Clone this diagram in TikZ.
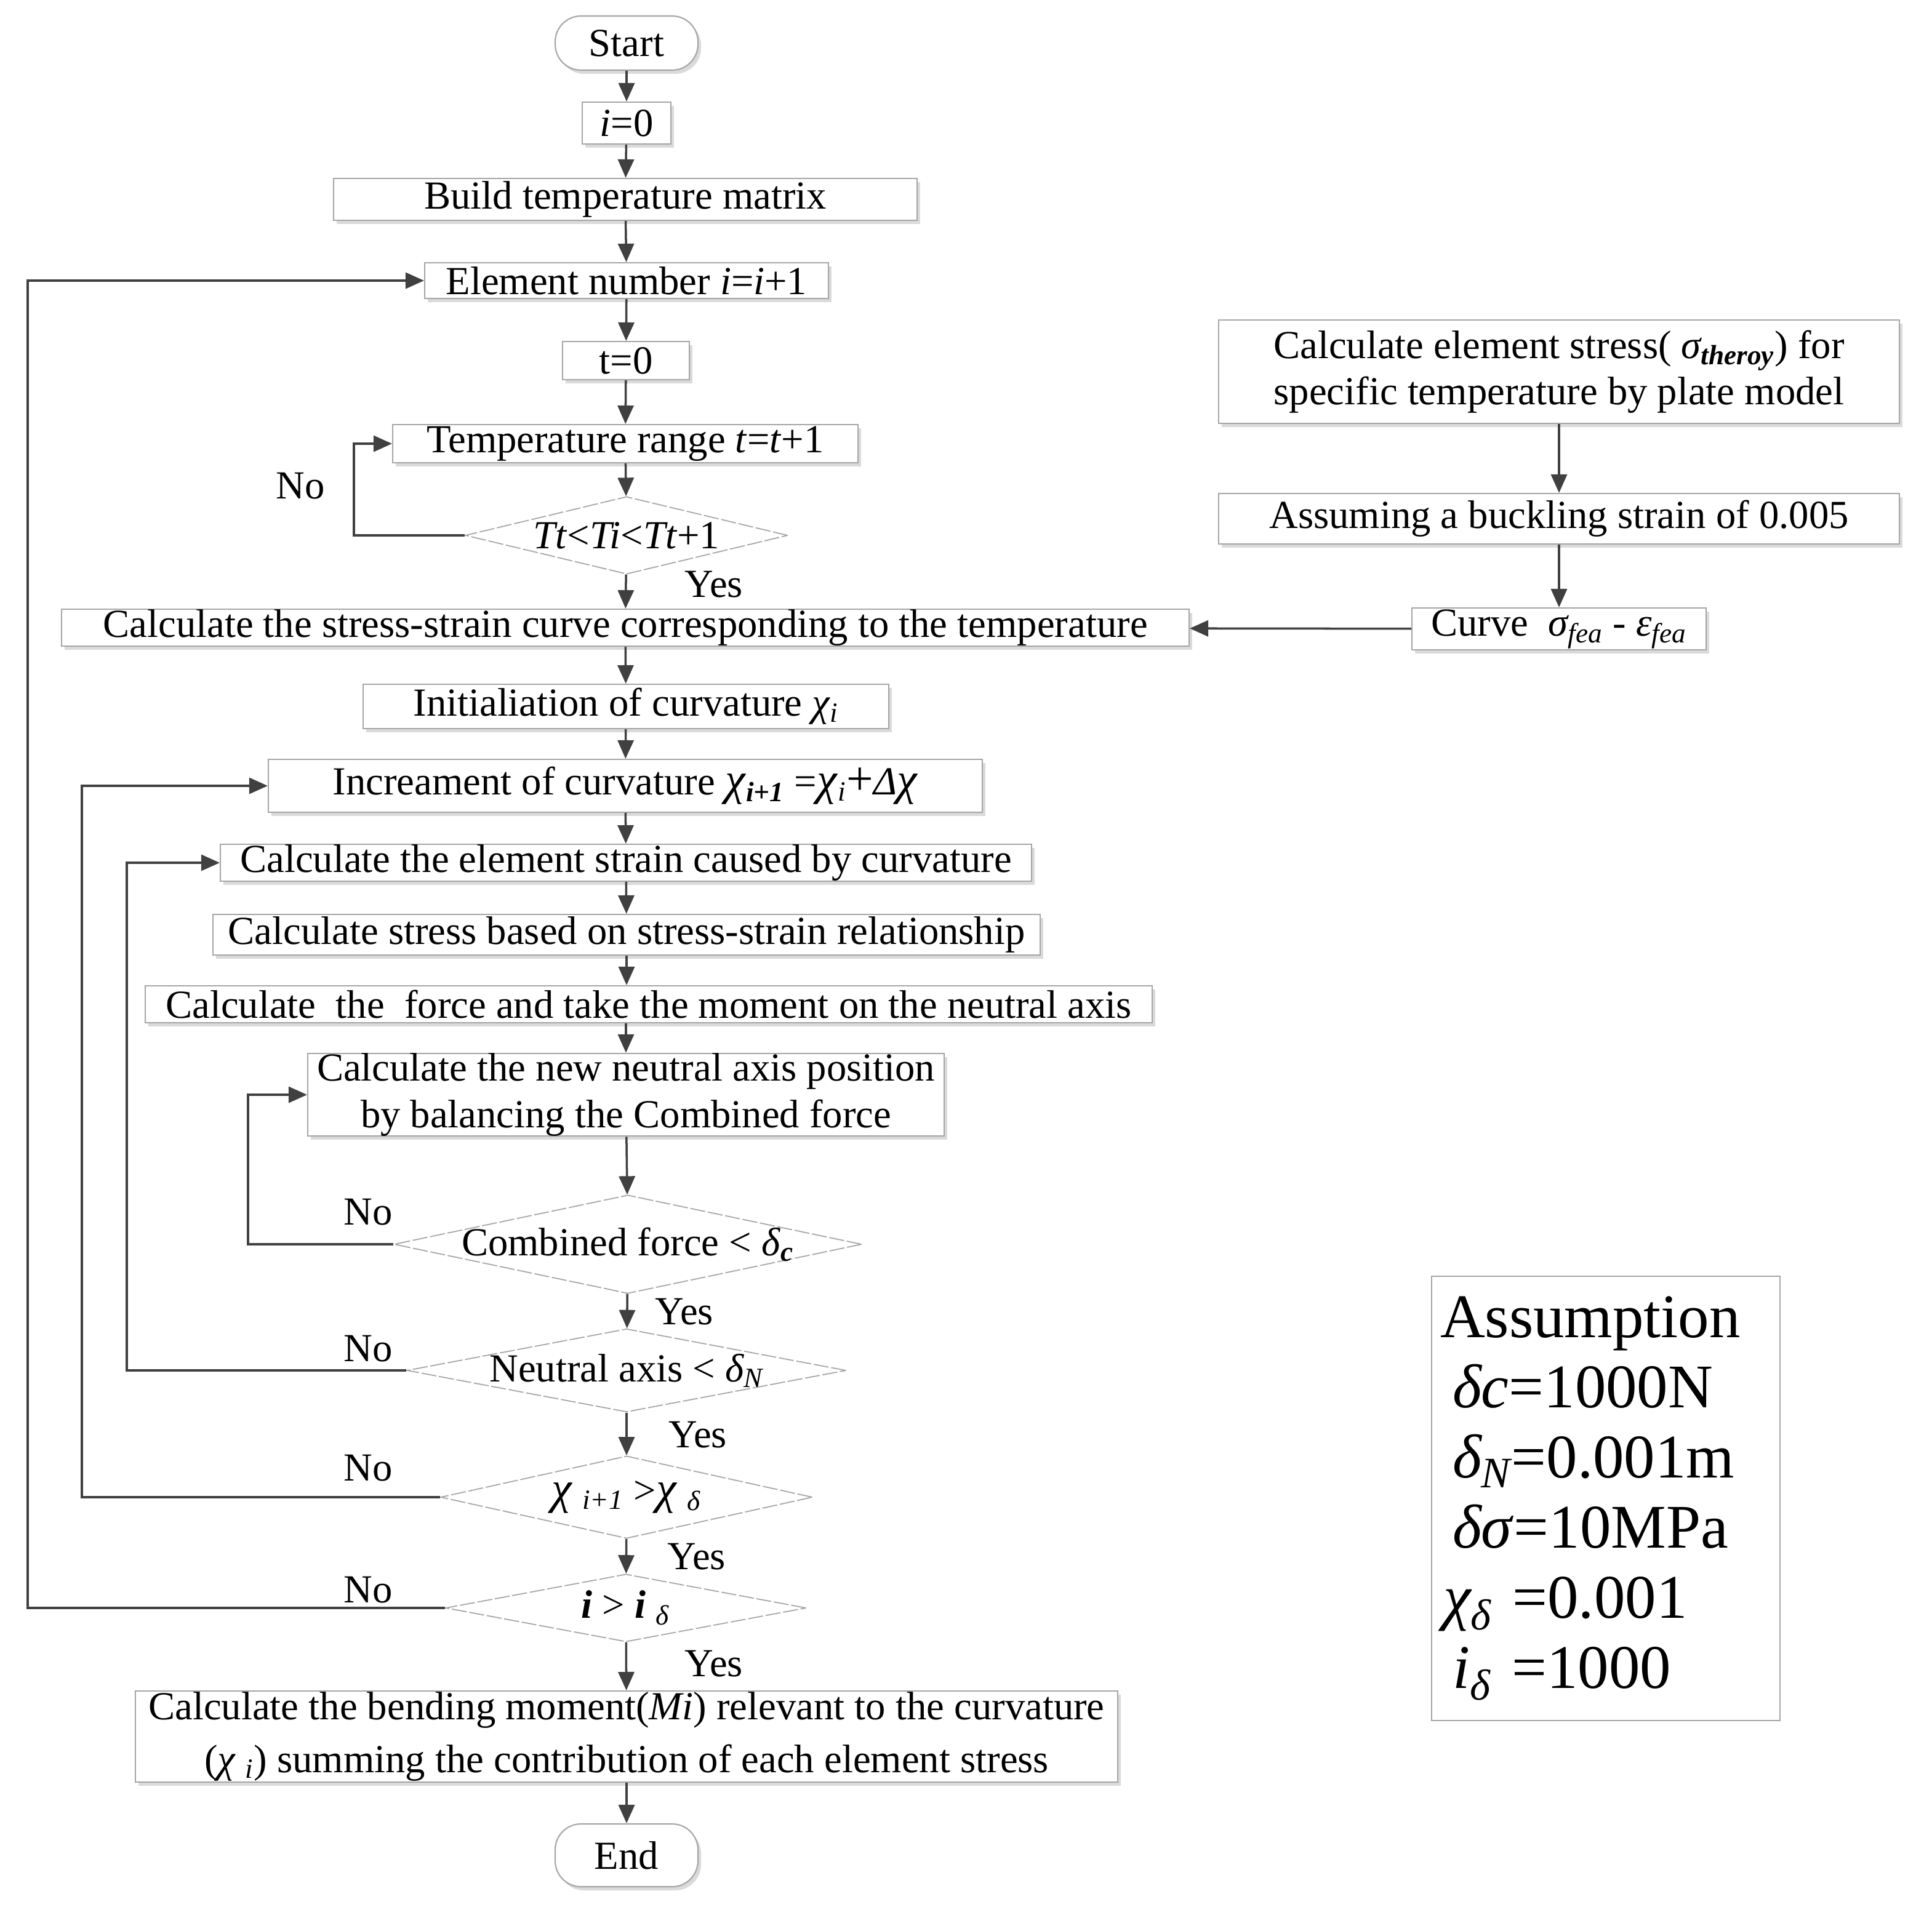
\documentclass[tikz,border=0pt]{standalone}
\usepackage{fontspec}
\setmainfont{Liberation Serif}
\usetikzlibrary{arrows.meta,shapes.geometric,shadows}
\definecolor{linegray}{RGB}{64,64,64}
\definecolor{boxgray}{RGB}{165,165,165}
\definecolor{shadowgray}{RGB}{218,218,218}
\tikzset{
	box/.style={draw=boxgray, line width=0.6pt, fill=white, inner sep=0pt, align=center,
		drop shadow={shadow xshift=0.05cm, shadow yshift=-0.06cm, fill=shadowgray, opacity=1}},
	terminal/.style={box, rounded corners=0.42cm},
	decision/.style={draw=boxgray, line width=0.5pt, dash pattern=on 7pt off 1.2pt, fill=white,
		inner sep=0pt, align=center, diamond},
	flow/.style={draw=linegray, line width=1pt, -{Triangle[length=0.3cm,width=0.26cm]}},
	loop/.style={flow, rounded corners=0pt},
	note/.style={inner sep=0pt}
}
\begin{document}
\begin{tikzpicture}[font=\fontsize{18.4}{21.5}\selectfont]
	\useasboundingbox (0,0) rectangle (31.39,-31.24);
	% Hauptspalte
	\node[terminal, minimum width=2.32cm, minimum height=0.88cm] (start) at (10.18,-0.70) {Start};
	\node[box, minimum width=1.44cm, minimum height=0.68cm] (izero) at (10.18,-2.00) {\textit{i}=0};
	\node[box, minimum width=9.48cm, minimum height=0.68cm] (matrix) at (10.16,-3.24) {Build temperature matrix};
	\node[box, minimum width=6.56cm, minimum height=0.58cm] (elem) at (10.18,-4.56) {Element number \textit{i}=\textit{i}+1};
	\node[box, minimum width=2.06cm, minimum height=0.62cm] (tzero) at (10.17,-5.86) {t=0};
	\node[box, minimum width=7.56cm, minimum height=0.62cm] (trange) at (10.16,-7.21) {Temperature range \textit{t}=\textit{t}+1};
	\node[decision, minimum width=5.24cm, minimum height=1.26cm, aspect=4.16] (dtemp) at (10.18,-8.70) {\textit{Tt}<\textit{Ti}<\textit{Tt}+1};
	\node[box, minimum width=18.32cm, minimum height=0.60cm] (sscurve) at (10.16,-10.20) {Calculate the stress-strain curve corresponding to the temperature};
	\node[box, minimum width=8.54cm, minimum height=0.72cm] (init) at (10.17,-11.48) {Initialiation of curvature \textit{χ\textsubscript{i}}};
	\node[box, minimum width=11.60cm, minimum height=0.86cm] (incr) at (10.16,-12.77) {Increament of curvature {\fontsize{21}{21}\selectfont\textit{χ}}\textsubscript{\textbf{\textit{i+1}}} ={\fontsize{21}{21}\selectfont\textit{χ}}\textsubscript{\textit{i}}{\fontsize{22}{22}\selectfont +}\textit{Δ}{\fontsize{21}{21}\selectfont\textit{χ}}};
	\node[box, minimum width=13.18cm, minimum height=0.60cm] (strain) at (10.17,-14.02) {Calculate the element strain caused by curvature};
	\node[box, minimum width=13.44cm, minimum height=0.66cm] (stress) at (10.18,-15.19) {Calculate stress based on stress-strain relationship};
	\node[box, minimum width=16.36cm, minimum height=0.60cm] (force) at (10.54,-16.32) {Calculate\ \ the\ \ force and take the moment on the neutral axis};
	\node[box, minimum width=10.34cm, minimum height=1.30cm] (newaxis) at (10.17,-17.79) {Calculate the new neutral axis position\\by balancing the Combined force};
	\node[decision, minimum width=7.60cm, minimum height=1.60cm, aspect=4.75, inner xsep=-0.22cm] (dforce) at (10.20,-20.22) {Combined force < \textit{δ}\textsubscript{\textbf{\textit{c}}}};
	\node[decision, minimum width=7.08cm, minimum height=1.34cm, aspect=5.28, inner xsep=-0.09cm] (daxis) at (10.18,-22.27) {Neutral axis < \textit{δ\textsubscript{N}}};
	\node[decision, minimum width=6.04cm, minimum height=1.34cm, aspect=4.5] (dcurv) at (10.18,-24.33) {{\fontsize{21}{21}\selectfont\textit{χ}} \textsubscript{\textit{i+1}} >{\fontsize{21}{21}\selectfont\textit{χ}} \textsubscript{\textit{δ}}};
	\node[decision, minimum width=5.86cm, minimum height=1.10cm, aspect=5.3] (dcount) at (10.17,-26.13) {\textbf{\textit{i}} > \textbf{\textit{i}} \textsubscript{\textit{δ}}};
	\node[box, minimum width=15.96cm, minimum height=1.48cm] (bending) at (10.18,-28.22) {Calculate the bending moment(\textit{Mi}) relevant to the curvature\\[0.1cm](\textit{χ \textsubscript{i}}) summing the contribution of each element stress};
	\node[terminal, minimum width=2.32cm, minimum height=1.02cm] (end) at (10.18,-30.15) {End};

	% rechte Spalte
	\node[box, minimum width=11.06cm, minimum height=1.68cm] (elstress) at (25.33,-6.04) {Calculate element stress( \textit{σ\textsubscript{\textbf{theroy}}}) for\\specific temperature by plate model};
	\node[box, minimum width=11.06cm, minimum height=0.82cm] (buckl) at (25.33,-8.43) {Assuming a buckling strain of 0.005};
	\node[box, minimum width=4.78cm, minimum height=0.68cm] (fea) at (25.33,-10.22) {Curve\ \ \textit{σ\textsubscript{fea}} - \textit{ε\textsubscript{fea}}};

	% Annahmen
	\node[draw=boxgray, line width=0.6pt, inner sep=0.14cm, text width=5.38cm, minimum height=7.22cm, align=left,
		font=\fontsize{28.7}{32.4}\selectfont] (assume) at (26.09,-24.35)
		{Assumption\\
		\hspace{0.2cm}\textit{δc}=1000N\\
		\hspace{0.2cm}\textit{δ\textsubscript{N}}=0.001m\\
		\hspace{0.2cm}\textit{δσ}=10MPa\\
		\hspace{0.05cm}\textit{χ\textsubscript{δ}} =0.001\\
		\hspace{0.2cm}\textit{i\textsubscript{δ}} =1000};

	% Pfeile
	\draw[flow] (start) -- (izero);
	\draw[flow] (izero) -- (matrix);
	\draw[flow] (matrix) -- (elem);
	\draw[flow] (elem) -- (tzero);
	\draw[flow] (tzero) -- (trange);
	\draw[flow] (trange) -- (dtemp);
	\draw[flow] (dtemp) -- (sscurve);
	\draw[flow] (sscurve) -- (init);
	\draw[flow] (init) -- (incr);
	\draw[flow] (incr) -- (strain);
	\draw[flow] (strain) -- (stress);
	\draw[flow] (stress.south) -- (stress.south |- force.north);
	\draw[flow] (force.south -| newaxis.north) -- (newaxis.north);
	\draw[flow] (newaxis) -- (dforce);
	\draw[flow] (dforce) -- (daxis);
	\draw[flow] (daxis) -- (dcurv);
	\draw[flow] (dcurv) -- (dcount);
	\draw[flow] (dcount) -- (bending);
	\draw[flow] (bending) -- (end);
	\draw[flow] (elstress) -- (buckl);
	\draw[flow] (buckl) -- (fea);
	\draw[flow] (fea) -- (sscurve);

	% Rueckfuehrungen
	\draw[loop] (dtemp.west) -- ++(-1.80,0) |- (trange.west);
	\draw[loop] (dforce.west) -- ++(-2.36,0) |- (newaxis.west);
	\draw[loop] (daxis.west) -- ++(-4.54,0) |- (strain.west);
	\draw[loop] (dcurv.west) -- ++(-5.82,0) |- (incr.west);
	\draw[loop] (dcount.west) -- ++(-6.78,0) |- (elem.west);

	% Beschriftungen
	\node[note] (no1) at (4.88,-7.90) {No};
	\node[note] (no2) at (5.98,-19.70) {No};
	\node[note] (no3) at (5.98,-21.92) {No};
	\node[note] (no4) at (5.98,-23.86) {No};
	\node[note] (no5) at (5.98,-25.84) {No};
	\node[note] (yes1) at (11.60,-9.50) {Yes};
	\node[note] (yes2) at (11.12,-21.32) {Yes};
	\node[note] (yes3) at (11.34,-23.32) {Yes};
	\node[note] (yes4) at (11.32,-25.30) {Yes};
	\node[note] (yes5) at (11.60,-27.04) {Yes};
\end{tikzpicture}
\end{document}
